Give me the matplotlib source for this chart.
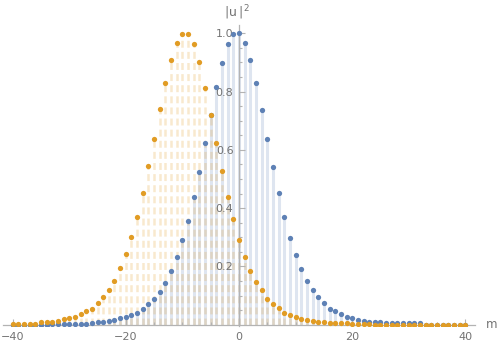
import matplotlib.pyplot as plt
import numpy as np

plt.rcParams['font.family'] = ['DejaVu Sans']
plt.rcParams['lines.scale_dashes'] = False

# lattice sites
m = np.arange(-40, 41)

# |u|^2, m = -40 ... 40
u_blue = [0.001, 0.001, 0.001, 0.001, 0.001, 0.001, 0.001,
          0.004, 0.004, 0.004, 0.004, 0.004, 0.004, 0.004,
          0.006, 0.009, 0.009, 0.013, 0.018, 0.023, 0.027, 0.033, 0.041, 0.055,
          0.071, 0.089, 0.112, 0.145, 0.184, 0.232, 0.290, 0.356, 0.437, 0.523,
          0.623, 0.719, 0.817, 0.897, 0.963, 0.997, 1.000,
          0.967, 0.909, 0.829, 0.738, 0.638, 0.542, 0.451, 0.370, 0.298, 0.241,
          0.193, 0.151, 0.118, 0.094, 0.074, 0.055, 0.046, 0.036, 0.026, 0.022,
          0.017, 0.012, 0.009, 0.008, 0.008,
          0.005, 0.005, 0.005, 0.005, 0.005, 0.005, 0.005,
          0.001, 0.001, 0.001, 0.001, 0.001, 0.001, 0.001, 0.001]

u_orange = [0.002, 0.002, 0.002, 0.002, 0.002,
            0.008, 0.008, 0.008,
            0.014, 0.019, 0.023, 0.028, 0.037, 0.047, 0.055, 0.076, 0.094, 0.118,
            0.151, 0.194, 0.243, 0.300, 0.371, 0.453, 0.544, 0.638,
            0.739, 0.829, 0.910, 0.967, 0.998, 0.998, 0.963, 0.901, 0.814, 0.720,
            0.625, 0.529, 0.437, 0.363, 0.291, 0.233, 0.186, 0.147, 0.118, 0.090,
            0.070, 0.056, 0.042, 0.033, 0.027, 0.021, 0.018, 0.013, 0.010, 0.010,
            0.005, 0.005, 0.005, 0.005,
            0.002, 0.002, 0.002, 0.002,
            0, 0, 0, 0, 0, 0, 0, 0, 0, 0, 0, 0, 0, 0, 0, 0, 0]

c_blue = (0.368, 0.507, 0.710)
c_orange = (0.881, 0.611, 0.142)
grey = (0.45, 0.45, 0.45)
axis_c = (0.70, 0.70, 0.70)

fig = plt.figure(figsize=(5, 3.49), dpi=100)
ax = fig.add_axes([0.006, 0.066, 0.944, 0.862])

# filling to the axis
ax.vlines(m, 0, u_blue, colors=[c_blue], alpha=0.2, lw=2.2, zorder=1)
ax.vlines(m, 0, u_orange, colors=[c_orange], alpha=0.22, lw=1.8,
          linestyles=[(0, (5, 3))], zorder=1)

ax.plot(m, u_blue, 'o', color=c_blue, ms=3.8, mew=0, zorder=3)
ax.plot(m, u_orange, 'o', color=c_orange, ms=3.8, mew=0, zorder=4)

ax.set_xlim(-41.7, 41.7)
ax.set_ylim(-0.004, 1.028)

for s in ['top', 'right']:
    ax.spines[s].set_visible(False)
ax.spines['left'].set_position(('data', 0))
ax.spines['bottom'].set_position(('data', 0))
for s in ['left', 'bottom']:
    ax.spines[s].set_color(axis_c)
    ax.spines[s].set_linewidth(0.9)
    ax.spines[s].set_zorder(2)

ax.set_xticks([-40, -20, 0, 20, 40])
ax.set_xticklabels(['\u221240', '\u221220', '0', '20', '40'])
ax.set_xticks(np.arange(-40, 41, 5), minor=True)
ax.set_yticks([0.2, 0.4, 0.6, 0.8, 1.0])
ax.set_yticklabels(['0.2', '0.4', '0.6', '0.8', '1.0'])
ax.set_yticks(np.arange(0.05, 1.01, 0.05), minor=True)

ax.tick_params(which='both', direction='in', color=axis_c, width=0.8,
               labelcolor=grey, labelsize=8)
ax.tick_params(which='major', length=4)
ax.tick_params(which='minor', length=2.2)
ax.tick_params(axis='x', pad=5)
ax.tick_params(axis='y', pad=4)

fig.text(0.972, 0.069, 'm', color=grey, fontsize=8.5, ha='left', va='center')
fig.text(0.475, 0.965, r'$|\mathregular{u}\,|^{\,2}$', color=grey, fontsize=9,
         ha='center', va='center')

fig.savefig('out.png', dpi=100)
